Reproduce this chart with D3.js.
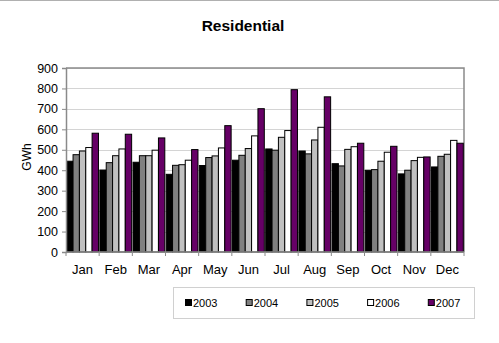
<!DOCTYPE html>
<html>
<head>
<meta charset="utf-8">
<script src="https://cdn.jsdelivr.net/npm/d3@7/dist/d3.min.js"></script>
<style>
  html, body { margin: 0; padding: 0; background: #fff; }
  svg { display: block; font-family: "Liberation Sans", Arial, sans-serif; }
</style>
</head>
<body>
<svg id="chart" width="499" height="343"></svg>
<script>
// Monthly residential consumption (GWh), one array per year
const months = ["Jan","Feb","Mar","Apr","May","Jun","Jul","Aug","Sep","Oct","Nov","Dec"];
const years = ["2003","2004","2005","2006","2007"];
const v2003 = [444, 401, 439, 380, 423, 449, 504, 494, 432, 400, 382, 416];
const v2004 = [476, 437, 471, 424, 462, 473, 498, 480, 421, 403, 400, 468];
const v2005 = [494, 471, 471, 427, 470, 506, 561, 548, 502, 444, 447, 478];
const v2006 = [511, 504, 498, 449, 509, 568, 594, 610, 515, 488, 463, 546];
const v2007 = [581, 576, 558, 501, 618, 701, 794, 759, 532, 517, 465, 532];
const yTicks = [0, 100, 200, 300, 400, 500, 600, 700, 800, 900];
const colors = ["#000000", "#808080", "#c0c0c0", "#ffffff", "#660066"];

const series = [v2003, v2004, v2005, v2006, v2007];
const svg = d3.select("#chart");

const plot = { left: 66, right: 464, top: 68, bottom: 252 };

// thin rule along the top edge of the figure
svg.append("line").attr("x1", 0).attr("x2", 499).attr("y1", 0.5).attr("y2", 0.5)
  .attr("stroke", "#b0b0b0").attr("stroke-width", 1);

const x = d3.scaleBand().domain(months).range([plot.left, plot.right]).paddingInner(0).paddingOuter(0);
const xi = d3.scaleBand().domain(years).range([0, x.bandwidth()]).paddingInner(0).paddingOuter(0.11);
const y = d3.scaleLinear().domain([0, 900]).range([plot.bottom, plot.top]);

// title
svg.append("text").attr("x", 243).attr("y", 31).attr("text-anchor", "middle")
  .attr("font-size", "15.5px").attr("font-weight", "bold").text("Residential");

// gridlines
svg.append("g").selectAll("line").data(yTicks.filter(d => d > 0)).join("line")
  .attr("x1", plot.left).attr("x2", plot.right)
  .attr("y1", d => Math.round(y(d)) + 0.5).attr("y2", d => Math.round(y(d)) + 0.5)
  .attr("stroke", "#d4d4d4").attr("stroke-width", 1);

// plot border (top and right)
svg.append("path")
  .attr("d", `M${plot.left},${plot.top}H${plot.right}V${plot.bottom}`)
  .attr("fill", "none").attr("stroke", "#8a8a8a").attr("stroke-width", 1.5);

// bars
const groups = svg.append("g").selectAll("g").data(months).join("g")
  .attr("transform", m => `translate(${x(m)},0)`);
groups.selectAll("rect").data((m, i) => series.map((s, k) => ({ year: years[k], value: s[i], k })))
  .join("rect")
  .attr("x", d => xi(d.year))
  .attr("width", xi.bandwidth())
  .attr("y", d => y(d.value))
  .attr("height", d => y(0) - y(d.value))
  .attr("fill", d => colors[d.k])
  .attr("stroke", "#000").attr("stroke-width", 1);

// y axis
const yAxis = svg.append("g").attr("transform", `translate(${plot.left},0)`)
  .call(d3.axisLeft(y).tickValues(yTicks).tickSize(4).tickPadding(4));
yAxis.select(".domain").attr("stroke", "#8a8a8a").attr("stroke-width", 1.5);
yAxis.selectAll(".tick line").attr("stroke", "#8a8a8a");
yAxis.selectAll("text").attr("font-size", "12.5px").attr("fill", "#000")
  .style("font-family", "Liberation Sans, Arial, sans-serif");

// x axis with ticks between categories
const xAxisG = svg.append("g").attr("transform", `translate(0,${plot.bottom})`);
xAxisG.append("line").attr("x1", plot.left).attr("x2", plot.right).attr("y1", 0).attr("y2", 0)
  .attr("stroke", "#8a8a8a").attr("stroke-width", 1.5);
xAxisG.selectAll("line.tk").data(months.concat(["end"])).join("line").attr("class", "tk")
  .attr("x1", (m, i) => i < months.length ? x(m) : plot.right)
  .attr("x2", (m, i) => i < months.length ? x(m) : plot.right)
  .attr("y1", 0).attr("y2", 4).attr("stroke", "#8a8a8a");
xAxisG.selectAll("text").data(months).join("text")
  .attr("x", m => x(m) + x.bandwidth() / 2).attr("y", 22)
  .attr("text-anchor", "middle").attr("font-size", "13px").text(m => m);

// y axis title
svg.append("text").attr("transform", `translate(31,157) rotate(-90)`)
  .attr("text-anchor", "middle").attr("font-size", "12px").text("GWh");

// legend
const legend = svg.append("g");
legend.append("rect").attr("x", 173.5).attr("y", 287.5).attr("width", 301).attr("height", 31)
  .attr("fill", "#fff").attr("stroke", "#d0d0d0").attr("stroke-width", 1);
const li = legend.selectAll("g").data(years).join("g")
  .attr("transform", (d, i) => `translate(${185.5 + i * 60.7},299.5)`);
li.append("rect").attr("width", 6).attr("height", 6)
  .attr("fill", (d, i) => colors[i]).attr("stroke", "#000").attr("stroke-width", 1);
li.append("text").attr("x", 7.5).attr("y", 7).attr("font-size", "11px").text(d => d);
</script>
</body>
</html>
